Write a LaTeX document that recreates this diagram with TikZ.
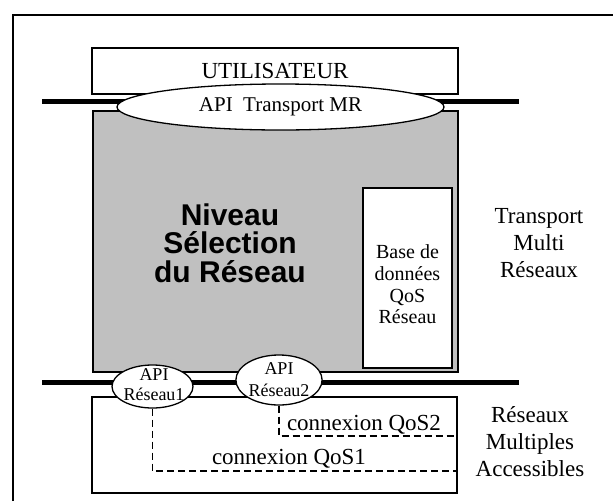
\documentclass[tikz,border=0pt]{standalone}
\usepackage{fontspec}
\setmainfont{Liberation Serif}
\newfontfamily\grasfont{Liberation Sans}
\usetikzlibrary{shapes.geometric,positioning}
\definecolor{gris}{RGB}{192,192,192}

\begin{document}
\begin{tikzpicture}[x=1pt,y=-1pt,
  boite/.style={draw,line width=2pt,inner sep=0pt},
  api/.style={draw,ellipse,fill=white,line width=1.3pt,inner sep=0pt},
  bus/.style={line width=5pt},
  lien/.style={line width=1.5pt,dash pattern=on 7pt off 4pt},
  texte/.style={align=center,font=\fontsize{23}{27}\selectfont}]
\useasboundingbox (0,0) rectangle (613,501);
\draw[line width=2pt] (13,501) -- (13,15) -- (613,15);
% bus
\coordinate (b1g) at (42,101);
\coordinate (b1d) at (519,101);
\coordinate (b2g) at (42,382);
\coordinate (b2d) at (519,382);
\draw[bus] (b1g)--(b1d);
\draw[bus] (b2g)--(b2d);
% couches
\node[boite,fill=white,minimum width=366pt,minimum height=46pt,texte] (util) at (275,71) {UTILISATEUR};
\node[boite,fill=gris,minimum width=365pt,minimum height=261pt] (niveau) at (275.5,241.5) {};
\node[font=\grasfont\bfseries\fontsize{30}{28.5}\selectfont,align=center] (sel) at (230,243) {Niveau\\Sélection\\du Réseau};
\node[boite,fill=white,minimum width=89pt,minimum height=180pt] (base) at (407.5,278) {};
\node[align=center,font=\fontsize{20}{21.7}\selectfont] (basetxt) at (407.5,284.5) {Base de\\données\\QoS\\Réseau};
\node[boite,minimum width=365pt,minimum height=96pt] (reseaux) at (274.5,445) {};
% API
\node[api,minimum width=327pt,minimum height=46pt,font=\fontsize{21}{24}\selectfont] (apiMR) at (280.5,107) {API\ \ Transport MR};
\node[api,minimum width=81pt,minimum height=43pt] (apiR1) at (152.5,386.5) {};
\begin{scope}
\clip (apiR1.center) ellipse (39.5pt and 20.5pt);
\node[align=center,font=\fontsize{18}{20}\selectfont] (txtR1) at (154,385) {API\\Réseau1};
\end{scope}
\node[api,minimum width=82pt,minimum height=50pt,align=center,font=\fontsize{18}{22}\selectfont] (apiR2) at (279,380) {API\\Réseau2};
% connexions
\coordinate (q1) at (457,471);
\coordinate (q2) at (457,436);
\draw[lien] (apiR1.south) |- (q1);
\draw[lien] (apiR2.south) |- (q2);
\node[texte] (qos2) at (364,425) {connexion QoS2};
\node[texte] (qos1) at (289,459) {connexion QoS1};
\node[texte] (tmr) at (539,243) {Transport\\Multi\\Réseaux};
\node[texte] (rma) at (530,442) {Réseaux\\Multiples\\Accessibles};
\end{tikzpicture}
\end{document}
